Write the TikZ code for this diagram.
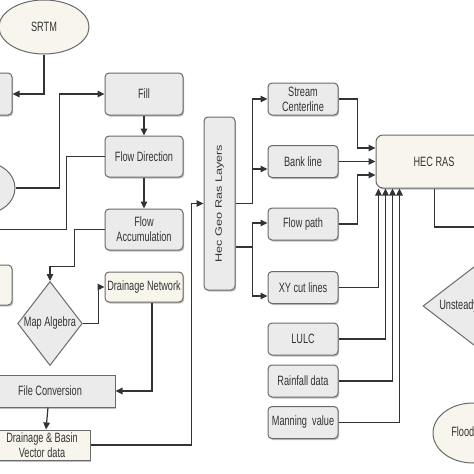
\documentclass[tikz,border=0pt]{standalone}
\usepackage{fontspec}
\setmainfont{Liberation Sans}[FakeStretch=0.68]
\newfontfamily\rotfont{Liberation Sans}[FakeStretch=1.36]
\usetikzlibrary{arrows.meta,shapes.geometric,shadows,calc}
\definecolor{boxgray}{HTML}{EBEBEB}
\definecolor{boxcream}{HTML}{F8F6EC}
\definecolor{edgegray}{HTML}{6A6A6A}
\definecolor{linegray}{HTML}{333333}
\tikzset{every picture/.style={line width=0.75pt}}
\tikzset{
  procbox/.style={draw=edgegray, fill=boxgray, rounded corners=4pt, line width=1pt, align=center, inner sep=1pt, text=linegray,
    drop shadow={shadow xshift=1.2pt, shadow yshift=-1.5pt, opacity=0.25, fill=black}},
  creambox/.style={procbox, fill=boxcream},
  flatbox/.style={procbox, rounded corners=0pt},
  oval/.style={ellipse, draw=edgegray, fill=boxcream, line width=1pt, inner sep=0pt, text=linegray},
  decide/.style={diamond, draw=edgegray, fill=boxgray, line width=1pt, inner sep=0pt, text=linegray},
  conn/.style={draw=linegray, line width=1.2pt, -{Triangle[length=7pt,width=6.5pt]}},
  plainline/.style={draw=linegray, line width=1.2pt},
}

\begin{document}
\begin{tikzpicture}[x=1pt,y=1pt,yscale=-1,xscale=1,font=\fontsize{13.5}{15}\selectfont]
\useasboundingbox (0,0) rectangle (474,474);
\clip (0,0) rectangle (474,474);

%Shape: Ellipse [SRTM]
\node[oval, minimum width=90, minimum height=54] (srtm) at (44,27) {SRTM};
%Shapes cut at the left edge
\node[procbox, minimum width=60, minimum height=42] (lbox) at (-18,94) {};
\node[oval, fill=boxgray, minimum width=60, minimum height=51] (lcirc) at (-15,188) {};
\node[creambox, minimum width=60, minimum height=40] (lbox2) at (-18,285) {};
\coordinate (offa) at (-5,229.5);

%Shape: Rectangle [processing chain]
\node[procbox, minimum width=78, minimum height=42] (fill) at (144,94) {Fill};
\node[procbox, minimum width=78, minimum height=41] (fdir) at (144,156.5) {Flow Direction};
\node[procbox, minimum width=78, minimum height=41] (facc) at (144,229.5) {Flow\\Accumulation};
\node[decide, minimum height=84] (alg) at (50,323.5) {Map Algebra};
\node[creambox, minimum width=78, minimum height=30] (dnet) at (144,287) {Drainage Network};
\node[flatbox, minimum width=130, minimum height=32] (fconv) at (50,391) {File Conversion};
\node[flatbox, fill=boxcream, minimum width=96, minimum height=30] (dbv) at (42,445) {Drainage \& Basin\\Vector data};

%Shape: Rectangle [Hec Geo Ras]
\node[procbox, minimum width=31, minimum height=173] (hec) at (219.5,203.5) {\rotatebox{90}{\rotfont\fontsize{9.3}{11}\selectfont Hec Geo Ras Layers}};

%Shape: Rectangle [layers and inputs]
\node[procbox, minimum width=70, minimum height=32] (scl) at (303,99) {Stream\\Centerline};
\node[procbox, minimum width=70, minimum height=32] (bank) at (303,161.5) {Bank line};
\node[procbox, minimum width=70, minimum height=32] (fpath) at (303,224) {Flow path};
\node[procbox, minimum width=70, minimum height=32] (xyc) at (303,287.5) {XY cut lines};
\node[procbox, minimum width=70, minimum height=32] (lulc) at (303,339) {LULC};
\node[procbox, minimum width=70, minimum height=32] (rain) at (303,381) {Rainfall data};
\node[procbox, minimum width=70, minimum height=32] (mann) at (303,422.5) {Manning~ value};

%Shape: Rectangle [HEC RAS]
\node[creambox, rounded corners=7pt, minimum width=116, minimum height=53] (ras) at (434,161.5) {HEC RAS};
\node[decide, aspect=1.3, minimum width=130, minimum height=100] (unst) at (488,306) {Unsteady Flow Analysis};
\node[oval, minimum width=80, minimum height=60] (flood) at (473,433) {Flood Map};
\coordinate (offb) at (480,227);

%Straight Lines
\draw[conn] (srtm.south) |- (lbox.east);
\draw[conn] (lcirc.east) -| ($(fill.west)+(-45,0)$) -- (fill.west);
\draw[conn] (fill) -- (fdir);
\draw[conn] (fdir) -- (facc);
\draw[plainline] (fdir.west) -- ++(-38,0) |- (offa);
\draw[conn] (facc.west) -- ++(-30,0) -- ++(0,37) -| (alg.north);
\draw[conn] (alg.east) -- ++(16,0) |- (dnet.west);
\draw[conn] ($(dnet.south)+(8,0)$) |- (fconv.east);
\draw[conn] ($(fconv.south)+(-2,0)$) -- ($(dbv.north)+(4,0)$);
\draw[conn] (dbv.east) -- ++(101,0) |- (hec.west);

\draw[conn] (hec.east) -- ++(17,0) |- (scl.west);
\draw[conn] (hec.east) -- ++(17,0) |- ($(bank.west)+(0,7.5)$);
\draw[conn] ($(hec.east)+(0,43.5)$) -- ++(17,0) |- ($(fpath.west)+(0,-1)$);
\draw[conn] ($(hec.east)+(0,43.5)$) -- ++(17,0) |- ($(xyc.west)+(0,8.5)$);

\draw[conn] (scl.east) -- ++(19,0) |- ($(ras.west)+(0,-13.5)$);
\draw[conn] (bank.east) -- (ras.west);
\draw[conn] (fpath.east) -- ++(19,0) |- ($(ras.west)+(0,13.5)$);
\draw[conn] (xyc.east) -| ($(ras.south west)+(3,0)$);
\draw[conn] (lulc.east) -| ($(ras.south west)+(10,0)$);
\draw[conn] (rain.east) -| ($(ras.south west)+(17,0)$);
\draw[conn] (mann.east) -| ($(ras.south west)+(24,0)$);
\draw[plainline] ($(ras.south west)+(59,0)$) |- (offb);

\end{tikzpicture}
\end{document}
